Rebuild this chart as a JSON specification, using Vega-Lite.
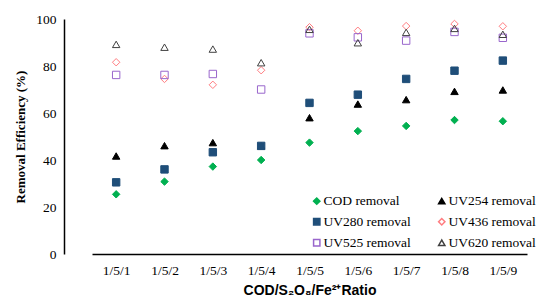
{
  "$schema": "https://vega.github.io/schema/vega-lite/v6.json",
  "width": 478,
  "height": 235,
  "autosize": {"type": "none"},
  "padding": {"left": 64, "top": 19, "right": 0, "bottom": 46},
  "config": {"view": {"stroke": null}, "font": "Times New Roman, Liberation Serif, serif"},
  "data": {"values": [
    {"ratio": "1/5/1", "series": "COD removal", "value": 25.4},
    {"ratio": "1/5/2", "series": "COD removal", "value": 30.8},
    {"ratio": "1/5/3", "series": "COD removal", "value": 37.2},
    {"ratio": "1/5/4", "series": "COD removal", "value": 40.0},
    {"ratio": "1/5/5", "series": "COD removal", "value": 47.4},
    {"ratio": "1/5/6", "series": "COD removal", "value": 52.3},
    {"ratio": "1/5/7", "series": "COD removal", "value": 54.5},
    {"ratio": "1/5/8", "series": "COD removal", "value": 57.0},
    {"ratio": "1/5/9", "series": "COD removal", "value": 56.5},
    {"ratio": "1/5/1", "series": "UV254 removal", "value": 41.7},
    {"ratio": "1/5/2", "series": "UV254 removal", "value": 46.1},
    {"ratio": "1/5/3", "series": "UV254 removal", "value": 47.4},
    {"ratio": "1/5/4", "series": "UV254 removal", "value": 46.0},
    {"ratio": "1/5/5", "series": "UV254 removal", "value": 58.0},
    {"ratio": "1/5/6", "series": "UV254 removal", "value": 63.8},
    {"ratio": "1/5/7", "series": "UV254 removal", "value": 65.7},
    {"ratio": "1/5/8", "series": "UV254 removal", "value": 69.2},
    {"ratio": "1/5/9", "series": "UV254 removal", "value": 69.8},
    {"ratio": "1/5/1", "series": "UV280 removal", "value": 30.5},
    {"ratio": "1/5/2", "series": "UV280 removal", "value": 36.0},
    {"ratio": "1/5/3", "series": "UV280 removal", "value": 43.3},
    {"ratio": "1/5/4", "series": "UV280 removal", "value": 46.0},
    {"ratio": "1/5/5", "series": "UV280 removal", "value": 64.3},
    {"ratio": "1/5/6", "series": "UV280 removal", "value": 67.8},
    {"ratio": "1/5/7", "series": "UV280 removal", "value": 74.5},
    {"ratio": "1/5/8", "series": "UV280 removal", "value": 78.0},
    {"ratio": "1/5/9", "series": "UV280 removal", "value": 82.3},
    {"ratio": "1/5/1", "series": "UV436 removal", "value": 81.6},
    {"ratio": "1/5/2", "series": "UV436 removal", "value": 74.5},
    {"ratio": "1/5/3", "series": "UV436 removal", "value": 72.0},
    {"ratio": "1/5/4", "series": "UV436 removal", "value": 78.2},
    {"ratio": "1/5/5", "series": "UV436 removal", "value": 96.5},
    {"ratio": "1/5/6", "series": "UV436 removal", "value": 95.0},
    {"ratio": "1/5/7", "series": "UV436 removal", "value": 97.0},
    {"ratio": "1/5/8", "series": "UV436 removal", "value": 97.9},
    {"ratio": "1/5/9", "series": "UV436 removal", "value": 96.9},
    {"ratio": "1/5/1", "series": "UV525 removal", "value": 76.2},
    {"ratio": "1/5/2", "series": "UV525 removal", "value": 76.2},
    {"ratio": "1/5/3", "series": "UV525 removal", "value": 76.6},
    {"ratio": "1/5/4", "series": "UV525 removal", "value": 70.0},
    {"ratio": "1/5/5", "series": "UV525 removal", "value": 93.9},
    {"ratio": "1/5/6", "series": "UV525 removal", "value": 92.2},
    {"ratio": "1/5/7", "series": "UV525 removal", "value": 90.8},
    {"ratio": "1/5/8", "series": "UV525 removal", "value": 94.5},
    {"ratio": "1/5/9", "series": "UV525 removal", "value": 92.0},
    {"ratio": "1/5/1", "series": "UV620 removal", "value": 89.2},
    {"ratio": "1/5/2", "series": "UV620 removal", "value": 88.0},
    {"ratio": "1/5/3", "series": "UV620 removal", "value": 87.2},
    {"ratio": "1/5/4", "series": "UV620 removal", "value": 81.4},
    {"ratio": "1/5/5", "series": "UV620 removal", "value": 95.6},
    {"ratio": "1/5/6", "series": "UV620 removal", "value": 89.9},
    {"ratio": "1/5/7", "series": "UV620 removal", "value": 94.3},
    {"ratio": "1/5/8", "series": "UV620 removal", "value": 96.0},
    {"ratio": "1/5/9", "series": "UV620 removal", "value": 93.5}
  ]},
  "mark": {"type": "point", "filled": false, "strokeWidth": 1, "size": 55, "opacity": 1},
  "encoding": {
    "x": {
      "field": "ratio", "type": "ordinal",
      "scale": {"type": "point", "range": [28, 463]},
      "axis": {
        "title": "COD/S₂O₈/Fe²⁺Ratio",
        "titleFont": "Liberation Sans", "titleFontWeight": "bold", "titleFontSize": 14, "titleColor": "#000",
        "titlePadding": 7,
        "labelAngle": 0, "labelFont": "Times New Roman, Liberation Serif, serif", "labelFontSize": 13.5, "labelColor": "#000", "labelPadding": 9,
        "ticks": false, "grid": false, "domainColor": "#000", "domainWidth": 1.5
      }
    },
    "y": {
      "field": "value", "type": "quantitative",
      "scale": {"domain": [0, 100], "nice": false},
      "axis": {
        "title": "Removal Efficiency (%)",
        "titleFont": "Times New Roman, Liberation Serif, serif", "titleFontWeight": "bold", "titleFontSize": 13, "titleColor": "#000",
        "titlePadding": 8,
        "values": [0, 20, 40, 60, 80, 100],
        "labelFont": "Times New Roman, Liberation Serif, serif", "labelFontSize": 13.5, "labelColor": "#000", "labelPadding": 8,
        "ticks": false, "grid": false, "domainColor": "#000", "domainWidth": 1.5
      }
    },
    "shape": {
      "field": "series", "type": "nominal",
      "scale": {"domain": ["COD removal", "UV254 removal", "UV280 removal", "UV436 removal", "UV525 removal", "UV620 removal"],
                "range": ["diamond", "triangle-up", "square", "diamond", "square", "triangle-up"]},
      "legend": {
        "title": null, "orient": "none", "legendX": 246, "legendY": 175, "columns": 2, "direction": "horizontal",
        "labelFont": "Times New Roman, Liberation Serif, serif", "labelFontSize": 13.5, "labelColor": "#000", "symbolSize": 40, "rowPadding": 6, "columnPadding": 24,
        "labelOffset": 0
      }
    },
    "color": {
      "field": "series", "type": "nominal",
      "scale": {"domain": ["COD removal", "UV254 removal", "UV280 removal", "UV436 removal", "UV525 removal", "UV620 removal"],
                "range": ["#00b050", "#000000", "#1f4e79", "#ff7c80", "#9966cc", "#404040"]}
    },
    "fill": {
      "field": "series", "type": "nominal",
      "scale": {"domain": ["COD removal", "UV254 removal", "UV280 removal", "UV436 removal", "UV525 removal", "UV620 removal"],
                "range": ["#00b050", "#000000", "#1f4e79", "transparent", "transparent", "transparent"]}
    }
  }
}
